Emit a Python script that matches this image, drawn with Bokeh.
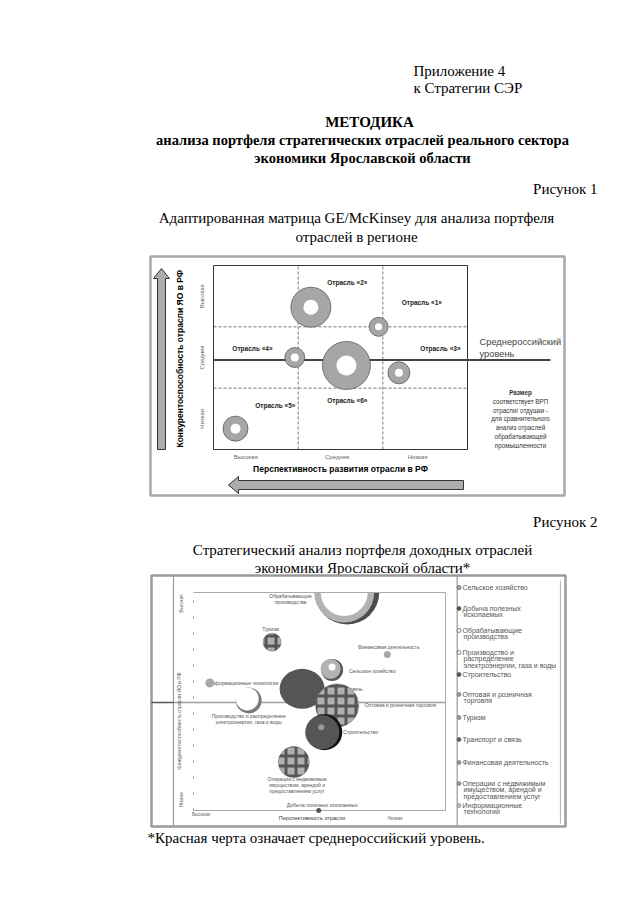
import numpy as np
from bokeh.plotting import figure
from bokeh.models import Range1d
from bokeh.core.properties import value
from bokeh.embed import file_html
from bokeh.resources import INLINE

# ------------------------------------------------------------------ data: figure 1
f1_names = ["Отрасль «1»", "Отрасль «2»", "Отрасль «3»", "Отрасль «4»", "Отрасль «5»", "Отрасль «6»"]
f1_persp = [1.95, 1.15, 2.19, 0.96, 0.26, 1.57]      # 0..3, left = high perspective
f1_comp = [2.00, 2.32, 1.25, 1.50, 0.34, 1.37]       # 0..3, bottom = low competitiveness
f1_grp = [19, 40, 22, 20, 25, 48]                    # bubble size ~ GRP of the branch
f1_hole = [7, 15, 8, 8, 10, 20]
f1_avg = 1.46                                        # average Russian level
f1_levels = ["Высокая", "Средняя", "Низкая"]
f1_note = ["Размер", "соответствует ВРП", "отрасли/ отдушки -", "для сравнительного",
           "анализ отраслей", "обрабатывающей", "промышленности"]

# ------------------------------------------------------------------ data: figure 2
f2_names = ["Сельское хозяйство", "Добыча полезных ископаемых", "Обрабатывающие производства",
            "Производство и распределение электроэнергии, газа и воды", "Строительство",
            "Оптовая и розничная торговля", "Туризм", "Транспорт и связь", "Финансовая деятельность",
            "Операции с недвижимым имуществом, арендой и предоставлением услуг",
            "Информационные технологии"]
f2_persp = [0.550, 0.497, 0.610, 0.219, 0.511, 0.570, 0.312, 0.431, 0.769, 0.398, 0.065]
f2_comp = [0.645, 0.000, 1.000, 0.505, 0.359, 0.482, 0.772, 0.558, 0.716, 0.222, 0.585]
f2_size = [22, 5, 64, 26, 36, 43, 18, 45, 7, 31, 9]
f2_avg = 0.495
f2_legend = [["Сельское хозяйство"], ["Добыча полезных", "ископаемых"],
             ["Обрабатывающие", "производства"],
             ["Производство и", "распределение", "электроэнергии,  газа и воды"],
             ["Строительство"], ["Оптовая и розничная", "торговля"], ["Туризм"],
             ["Транспорт и связь"], ["Финансовая деятельность"],
             ["Операции с недвижимым", "имуществом, арендой и", "предоставлением услуг"],
             ["Информационные", "технологии"]]
f2_labels = [["Сельское хозяйство"], ["Добыча полезных ископаемых"], ["Обрабатывающие", "производства"],
             ["Производство и распределение", "электроэнергии, газа и воды"], ["Строительство"],
             ["Оптовая и розничная торговля"], ["Туризм"], ["Транспорт и связь"],
             ["Финансовая деятельность"],
             ["Операции с недвижимым", "имуществом, арендой и", "предоставлением услуг"],
             ["Информационные технологии"]]

# ------------------------------------------------------------------ page layout (pixels)
W, H = 624, 889
PX0, PX1, PY0, PY1 = 0, W, 0, H
SERIF = value("Liberation Serif")
SANS = value("Liberation Sans")

C1L, C1R, C1T, C1B = 213, 467, 265, 449     # chart 1 frame on the page
C2L, C2R, C2T, C2B = 193, 445, 592, 810     # chart 2 frame on the page


def mapped_range(d0, d1, q0, q1, lo, hi):
    k = (d1 - d0) / (q1 - q0)
    return Range1d(d0 + (lo - q0) * k, d0 + (hi - q0) * k)


p = figure(width=W, height=H, x_range=Range1d(PX0, PX1), y_range=Range1d(PY1, PY0),
           output_backend="svg", toolbar_location=None, min_border=0,
           x_axis_location=None, y_axis_location=None, background_fill_color="white")
p.grid.visible = False
p.outline_line_color = None
p.extra_x_ranges = {"c1x": mapped_range(0, 3, C1L, C1R, PX0, PX1),
                    "c2x": mapped_range(0, 1, C2L, C2R, PX0, PX1)}
p.extra_y_ranges = {"c1y": mapped_range(0, 3, C1B, C1T, PY1, PY0),
                    "c2y": mapped_range(0, 1, C2B, C2T, PY1, PY0)}
R1 = dict(x_range_name="c1x", y_range_name="c1y")
R2 = dict(x_range_name="c2x", y_range_name="c2y")


def ptext(x, y, t, size, align="left", style="normal", font=SERIF, color="black", **kw):
    p.text(x=[x], y=[y], text=[t], text_font=font, text_font_size=size, text_align=align,
           text_baseline="middle", text_font_style=style, text_color=color, **kw)


# ------------------------------------------------------------------ header text
ptext(413, 70, "Приложение 4", "15px")
ptext(413, 87, "к Стратегии СЭР", "15px")
ptext(369, 121, "МЕТОДИКА", "15px", "center", "bold")
ptext(362, 139, "анализа портфеля стратегических отраслей реального сектора", "14.5px", "center", "bold")
ptext(362, 157, "экономики Ярославской области", "14.5px", "center", "bold")
ptext(597, 188, "Рисунок 1", "15px", "right")
ptext(356, 217, "Адаптированная матрица GE/McKinsey для анализа портфеля", "15px", "center")
ptext(356, 236, "отраслей в регионе", "15px", "center")
ptext(597, 521, "Рисунок 2", "15px", "right")
ptext(362, 549, "Стратегический анализ портфеля доходных отраслей", "15px", "center")
ptext(362, 567, "экономики Ярославской области*", "15px", "center")
ptext(147, 837, "*Красная черта означает среднероссийский уровень.", "15px")

# ------------------------------------------------------------------ figure 1
p.quad(left=[150], right=[564], top=[256], bottom=[495], fill_color=None,
       line_color="#a8a8a8", line_width=2.5)

p.segment(x0=[1, 2], y0=[0, 0], x1=[1, 2], y1=[3, 3], line_color="#555", line_width=0.8,
          line_dash="3 2", **R1)
p.segment(x0=[0, 0], y0=[1, 2], x1=[3, 3], y1=[1, 2], line_color="#555", line_width=0.8,
          line_dash="3 2", **R1)
p.quad(left=[0], right=[3], bottom=[0], top=[3], fill_color=None, line_color="#333",
       line_width=1, **R1)

p.segment(x0=[0], y0=[f1_avg], x1=[3.98], y1=[f1_avg], line_color="#444", line_width=2, **R1)
ptext(479, 341, "Среднероссийский", "9.3px", font=SANS, color="#444")
ptext(479, 353, "уровень", "9.3px", font=SANS, color="#444")

p.scatter(x=f1_persp, y=f1_comp, size=f1_grp, fill_color="#a6a6a6", line_color="#4d4d4d",
          line_width=0.7, **R1)
p.scatter(x=f1_persp, y=f1_comp, size=f1_hole, fill_color="white", line_color=None, **R1)

f1_lx = [2.46, 1.58, 2.68, 0.46, 0.73, 1.58]
f1_ly = [2.40, 2.73, 1.64, 1.64, 0.72, 0.80]
p.text(x=f1_lx, y=f1_ly, text=f1_names, text_font=SANS, text_font_size="6.5px",
       text_font_style="bold", text_align="center", text_baseline="middle",
       text_color="#222", **R1)

p.text(x=[-0.13] * 3, y=[2.5, 1.5, 0.5], text=f1_levels, angle=np.pi / 2, text_font=SANS,
       text_font_size="6px", text_align="center", text_baseline="middle", text_color="#666", **R1)
p.text(x=[0.38, 1.46, 2.41], y=[-0.115] * 3, text=f1_levels, text_font=SANS,
       text_font_size="6px", text_align="center", text_baseline="middle", text_color="#666", **R1)

p.text(x=[1.5], y=[-0.31], text=["Перспективность развития отрасли в РФ"], text_font=SANS,
       text_font_size="8.5px", text_font_style="bold", text_align="center",
       text_baseline="middle", **R1)
p.text(x=[-0.40], y=[1.48], text=["Конкурентоспособность отрасли ЯО в РФ"], angle=np.pi / 2,
       text_font=SANS, text_font_size="8.5px", text_font_style="bold", text_align="center",
       text_baseline="middle", **R1)

for i, line in enumerate(f1_note):
    ptext(520, 392 + i * 8.8, line, "6.3px", "center", "bold" if i == 0 else "normal",
          font=SANS, color="#333")


def block_arrow(tip_x, tip_y, length, shaft, head, head_len, horizontal):
    if horizontal:   # pointing left
        xs = [tip_x, tip_x + head_len, tip_x + head_len, tip_x + length, tip_x + length,
              tip_x + head_len, tip_x + head_len]
        ys = [tip_y, tip_y - head / 2, tip_y - shaft / 2, tip_y - shaft / 2, tip_y + shaft / 2,
              tip_y + shaft / 2, tip_y + head / 2]
    else:            # pointing up (page y grows downward)
        ys = [tip_y, tip_y + head_len, tip_y + head_len, tip_y + length, tip_y + length,
              tip_y + head_len, tip_y + head_len]
        xs = [tip_x, tip_x + head / 2, tip_x + shaft / 2, tip_x + shaft / 2, tip_x - shaft / 2,
              tip_x - shaft / 2, tip_x - head / 2]
    p.patch(xs, ys, fill_color="#adadad", line_color="#333", line_width=1)


block_arrow(228, 484.5, 235, 9, 17, 10, True)
block_arrow(161, 268, 181, 8, 16, 10, False)

# ------------------------------------------------------------------ figure 2
p.quad(left=[151], right=[565], top=[575], bottom=[826], fill_color=None,
       line_color="#9a9a9a", line_width=2.5)
p.segment(x0=[173, 456.7, 560], y0=[575, 575, 580], x1=[173, 456.7, 560], y1=[826, 826, 823],
          line_color=["#999", "#999", "#bbb"], line_width=1.2)

p.segment(x0=[0], y0=[0], x1=[0], y1=[1], line_color="#888", line_width=1, line_dash="2 14", **R2)
p.segment(x0=[-0.079], y0=[f2_avg], x1=[1.0], y1=[f2_avg], line_color="#a0a0a0", line_width=1.5, **R2)
p.segment(x0=[-0.167], y0=[f2_avg], x1=[-0.079], y1=[f2_avg], line_color="#555", line_width=1.5, **R2)

f2_lx = [0.709, 0.511, 0.385, 0.219, 0.663, 0.821, 0.306, 0.587, 0.775, 0.411, 0.198]
f2_ly = [0.642, 0.026, 0.972, 0.42, 0.359, 0.482, 0.833, 0.558, 0.752, 0.115, 0.584]
LH2 = 6.0 / (C2B - C2T)
for lx, ly, lines in zip(f2_lx, f2_ly, f2_labels):
    n = len(lines)
    ys = [ly + (n - 1) / 2 * LH2 - k * LH2 for k in range(n)]
    p.text(x=[lx] * n, y=ys, text=lines, text_font=SANS, text_font_size="5px",
           text_align="center", text_baseline="middle", text_color="#555", **R2)

dx = 1.0 / (C2R - C2L)
dy = 1.0 / (C2B - C2T)
X, Y, S = f2_persp, f2_comp, f2_size

# Обрабатывающие производства: ring cut by the top of the frame (lower half only)
HALF = dict(start_angle=np.pi, end_angle=2 * np.pi, inner_radius_units="screen",
            outer_radius_units="screen", line_color=None)
p.annular_wedge(x=[X[2]], y=[Y[2]], inner_radius=0, outer_radius=S[2] / 2, fill_color="#4d4d4d",
                **HALF, **R2)
p.annular_wedge(x=[X[2] - 3 * dx], y=[Y[2]], inner_radius=0, outer_radius=S[2] / 2 - 2,
                fill_color="#b3b3b3", **HALF, **R2)
p.annular_wedge(x=[X[2] - 3 * dx], y=[Y[2]], inner_radius=0, outer_radius=S[2] / 2 - 8.5,
                fill_color="white", **HALF, **R2)

# frame (top, right, bottom)
p.segment(x0=[0, 1, 0], y0=[1, 1, 0], x1=[1, 1, 1], y1=[1, 0, 0], line_color="#aaa",
          line_width=1, **R2)

p.scatter([X[10], X[8]], [Y[10], Y[8]], size=[S[10], S[8]], fill_color="#a8a8a8",
          line_color=None, **R2)

CHK = dict(fill_color="#b0b0b0", hatch_pattern="+", hatch_color="#555", hatch_scale=10,
           hatch_weight=3, line_color="#666", line_width=0.5)
p.scatter([X[6]], [Y[6]], size=S[6], **CHK, **R2)

p.scatter([X[0]], [Y[0]], size=S[0], fill_color="#5a5a5a", line_color=None, **R2)
p.scatter([X[0] - 1.5 * dx], [Y[0] + 1 * dy], size=S[0] - 2, fill_color="#b3b3b3", line_color=None, **R2)
p.scatter([X[0]], [Y[0] + 3 * dy], size=7, fill_color="white", line_color=None, **R2)

p.scatter([X[3]], [Y[3]], size=S[3], fill_color="#7a7a7a", line_color=None, **R2)
p.scatter([X[3] - 1.5 * dx], [Y[3] + 1.5 * dy], size=S[3] - 3, fill_color="white",
          line_color=None, **R2)

p.ellipse(x=[X[7]], y=[Y[7]], width=S[7], height=S[7] - 5, width_units="screen",
          height_units="screen", fill_color="#555", line_color=None, **R2)
p.scatter([X[5]], [Y[5]], size=S[5], **CHK, **R2)
p.scatter([X[4] + 2 * dx], [Y[4]], size=S[4], fill_color="#111", line_color=None, **R2)
p.scatter([X[4]], [Y[4]], size=S[4] - 2, fill_color="#555", line_color=None, **R2)
p.scatter([X[4] - 1 * dx], [Y[4] + 5 * dy], size=6, fill_color="#999", line_color=None, **R2)
p.scatter([X[9]], [Y[9]], size=S[9], **CHK, **R2)
p.scatter([X[1]], [Y[1]], size=S[1], fill_color="#555", line_color=None, **R2)

p.text(x=[-0.047], y=[0.95], text=["Высокая"], angle=np.pi / 2, text_font=SANS,
       text_font_size="4.5px", text_align="center", text_baseline="middle", text_color="#666", **R2)
p.text(x=[-0.047], y=[0.05], text=["Низкая"], angle=np.pi / 2, text_font=SANS,
       text_font_size="4.5px", text_align="center", text_baseline="middle", text_color="#666", **R2)
p.text(x=[-0.057], y=[0.41], text=["Конкурентоспособность отрасли ЯО в РФ"], angle=np.pi / 2,
       text_font=SANS, text_font_size="5px", text_align="center", text_baseline="middle",
       text_color="#555", **R2)
p.text(x=[0.03, 0.47, 0.8], y=[-0.02, -0.035, -0.035],
       text=["Высокая", "Перспективность отрасли", "Низкая"], text_font=SANS,
       text_font_size=["4.5px", "5.5px", "4.5px"], text_align="center", text_baseline="middle",
       text_color=["#666", "#333", "#666"], **R2)

leg_y = [587, 608, 630, 652, 674, 694, 717, 739, 762, 783, 805]
leg_fill = ["#aaa", "#555", "white", "white", "#555", "#999", "#999", "#666", "#999", "#999", "#bbb"]
leg_line = ["#555", "#555", "#555", "#555", "#555", "#777", "#777", "#555", "#777", "#777", "#888"]
p.scatter(x=[458.5] * len(leg_y), y=leg_y, size=4, fill_color=leg_fill, line_color=leg_line,
          line_width=0.7)
for yy, lines in zip(leg_y, f2_legend):
    for k, line in enumerate(lines):
        ptext(462 if k == 0 else 463, yy + k * 6.4, line, "7px", font=SANS, color="#555")

open("out.html", "w").write(file_html(p, INLINE))
